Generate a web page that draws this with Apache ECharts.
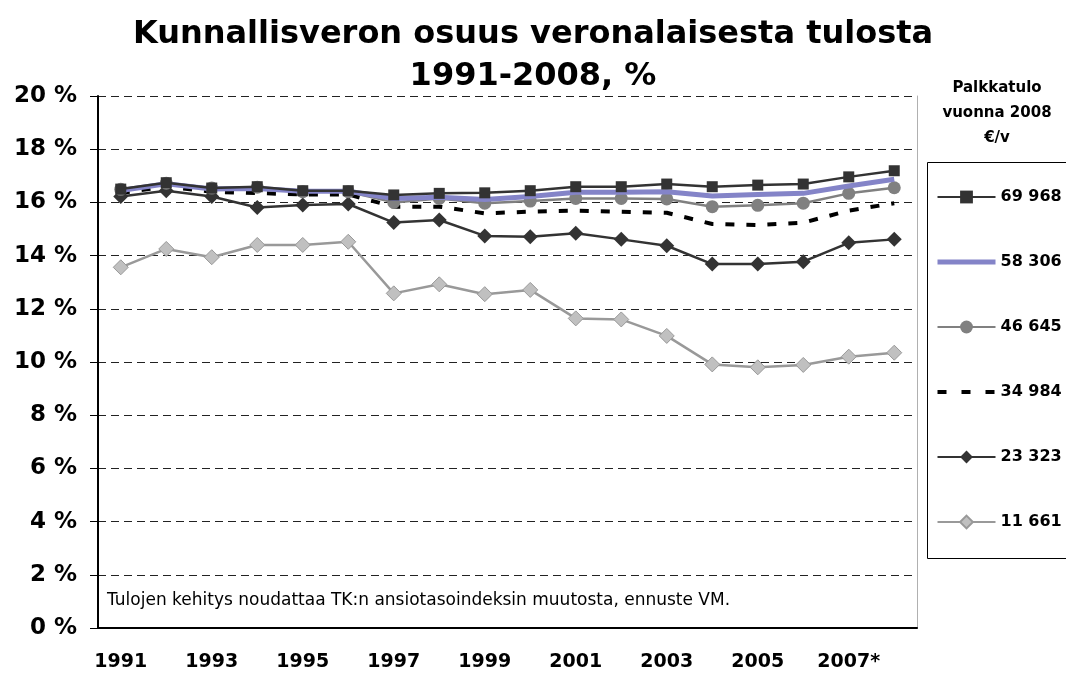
<!DOCTYPE html>
<html>
<head>
<meta charset="utf-8">
<title>Kunnallisveron osuus</title>
<script src="https://cdn.jsdelivr.net/npm/echarts@6/dist/echarts.min.js"></script>
<style>
html, body { margin: 0; padding: 0; background: #fff; }
#chart { width: 1066px; height: 673px; }
</style>
</head>
<body>
<div id="chart"></div>
<script>
// vuodet (2007 ja 2008 ennuste)
let years = ['1991', '1992', '1993', '1994', '1995', '1996', '1997', '1998', '1999',
  '2000', '2001', '2002', '2003', '2004', '2005', '2006', '2007*', '2008*']
let yTicks = [0, 2, 4, 6, 8, 10, 12, 14, 16, 18, 20]

// kunnallisveron osuus veronalaisesta tulosta, %
let s69968 = [16.5, 16.74, 16.54, 16.59, 16.44, 16.44, 16.28, 16.34, 16.36, 16.44, 16.59, 16.59, 16.69, 16.59, 16.65, 16.69, 16.96, 17.19]
let s58306 = [16.45, 16.7, 16.5, 16.52, 16.42, 16.42, 16.15, 16.19, 16.11, 16.22, 16.38, 16.38, 16.4, 16.24, 16.3, 16.34, 16.62, 16.87]
let s46645 = [16.49, 16.72, 16.54, 16.57, 16.4, 16.4, 16.0, 16.15, 15.97, 16.05, 16.15, 16.15, 16.13, 15.84, 15.89, 15.97, 16.34, 16.55]
let s34984 = [16.35, 16.6, 16.4, 16.35, 16.3, 16.3, 15.84, 15.84, 15.59, 15.65, 15.69, 15.65, 15.61, 15.19, 15.15, 15.24, 15.69, 15.97]
let s23323 = [16.22, 16.44, 16.22, 15.81, 15.9, 15.94, 15.24, 15.34, 14.74, 14.71, 14.84, 14.61, 14.37, 13.68, 13.68, 13.77, 14.48, 14.61]
let s11661 = [13.56, 14.25, 13.94, 14.4, 14.4, 14.52, 12.58, 12.92, 12.55, 12.71, 11.64, 11.6, 10.98, 9.91, 9.8, 9.89, 10.2, 10.35]

let font = 'DejaVu Sans, Liberation Sans, sans-serif'

let chart = echarts.init(document.getElementById('chart'))
let option = {
  animation: false,
  backgroundColor: '#fff',
  title: {
    text: 'Kunnallisveron osuus veronalaisesta tulosta\n1991-2008, %',
    left: 'center',
    top: 9,
    textStyle: { fontFamily: font, fontWeight: 'bold', fontSize: 32, lineHeight: 42, color: '#000' }
  },
  grid: { left: 98, right: 149, top: 96, bottom: 45 },
  legend: {
    orient: 'vertical',
    left: 930,
    top: 184,
    itemGap: 49,
    itemWidth: 58,
    itemHeight: 16,
    textStyle: { fontFamily: font, fontWeight: 'bold', fontSize: 16, color: '#000' },
    data: [
      { name: '69 968', lineStyle: { width: 2 } },
      { name: '58 306', itemStyle: { opacity: 0 }, lineStyle: { width: 5 } },
      { name: '46 645', lineStyle: { width: 2 } },
      { name: '34 984', itemStyle: { opacity: 0 }, lineStyle: { width: 4, type: [9, 15] } },
      { name: '23 323', lineStyle: { width: 2 } },
      { name: '11 661', lineStyle: { width: 2 } }
    ]
  },
  graphic: [
    {
      type: 'rect',
      shape: { x: 927.5, y: 162.5, width: 145, height: 396 },
      style: { fill: 'none', stroke: '#000', lineWidth: 1 }
    },
    {
      type: 'text',
      x: 997, y: 76,
      style: {
        text: 'Palkkatulo\nvuonna 2008\n€/v',
        textAlign: 'center',
        fontFamily: font, fontWeight: 'bold', fontSize: 15, lineHeight: 25, fill: '#000'
      }
    },
    {
      type: 'text',
      x: 107, y: 592,
      style: {
        text: 'Tulojen kehitys noudattaa TK:n ansiotasoindeksin muutosta, ennuste VM.',
        fontFamily: font, fontSize: 17, fill: '#000'
      }
    }
  ],
  xAxis: {
    type: 'category',
    data: years,
    boundaryGap: true,
    axisLine: { lineStyle: { color: '#000', width: 2 } },
    axisTick: { interval: 0, length: 8, lineStyle: { color: '#000' } },
    axisLabel: {
      interval: 1,
      margin: 25,
      fontFamily: font, fontWeight: 'bold', fontSize: 19, color: '#000'
    }
  },
  yAxis: [
    {
      type: 'value',
      min: yTicks[0],
      max: yTicks[yTicks.length - 1],
      interval: 2,
      axisLine: { show: true, lineStyle: { color: '#000', width: 2 } },
      axisTick: { show: true, length: 8, lineStyle: { color: '#000' } },
      axisLabel: {
        margin: 21,
        formatter: '{value} %',
        fontFamily: font, fontWeight: 'bold', fontSize: 23, color: '#000'
      },
      splitLine: { lineStyle: { color: '#222', width: 1, type: [8, 5] } }
    },
    {
      // plot area right edge
      type: 'value',
      position: 'right',
      min: 0, max: 20,
      axisLine: { show: true, lineStyle: { color: '#b0b0b0', width: 1 } },
      axisTick: { show: false },
      axisLabel: { show: false },
      splitLine: { show: false }
    }
  ],
  series: [
    {
      name: '11 661', type: 'line', data: s11661, z: 2,
      symbol: 'diamond', symbolSize: 15,
      lineStyle: { color: '#999', width: 2.5 },
      itemStyle: { color: '#c0c0c0', borderColor: '#999', borderWidth: 1 }
    },
    {
      name: '34 984', type: 'line', data: s34984, z: 3,
      symbol: 'none',
      lineStyle: { color: '#000', width: 4, type: [9, 12] },
      itemStyle: { color: '#000' }
    },
    {
      name: '23 323', type: 'line', data: s23323, z: 4,
      symbol: 'diamond', symbolSize: 15,
      lineStyle: { color: '#333', width: 2.5 },
      itemStyle: { color: '#333' }
    },
    {
      name: '46 645', type: 'line', data: s46645, z: 5,
      symbol: 'circle', symbolSize: 13,
      lineStyle: { color: '#808080', width: 2.5 },
      itemStyle: { color: '#808080' }
    },
    {
      name: '58 306', type: 'line', data: s58306, z: 6,
      symbol: 'none',
      lineStyle: { color: '#8484c8', width: 5 },
      itemStyle: { color: '#8484c8' }
    },
    {
      name: '69 968', type: 'line', data: s69968, z: 7,
      symbol: 'rect', symbolSize: 11,
      lineStyle: { color: '#333', width: 2.5 },
      itemStyle: { color: '#333' }
    }
  ]
}
chart.setOption(option)
</script>
</body>
</html>
